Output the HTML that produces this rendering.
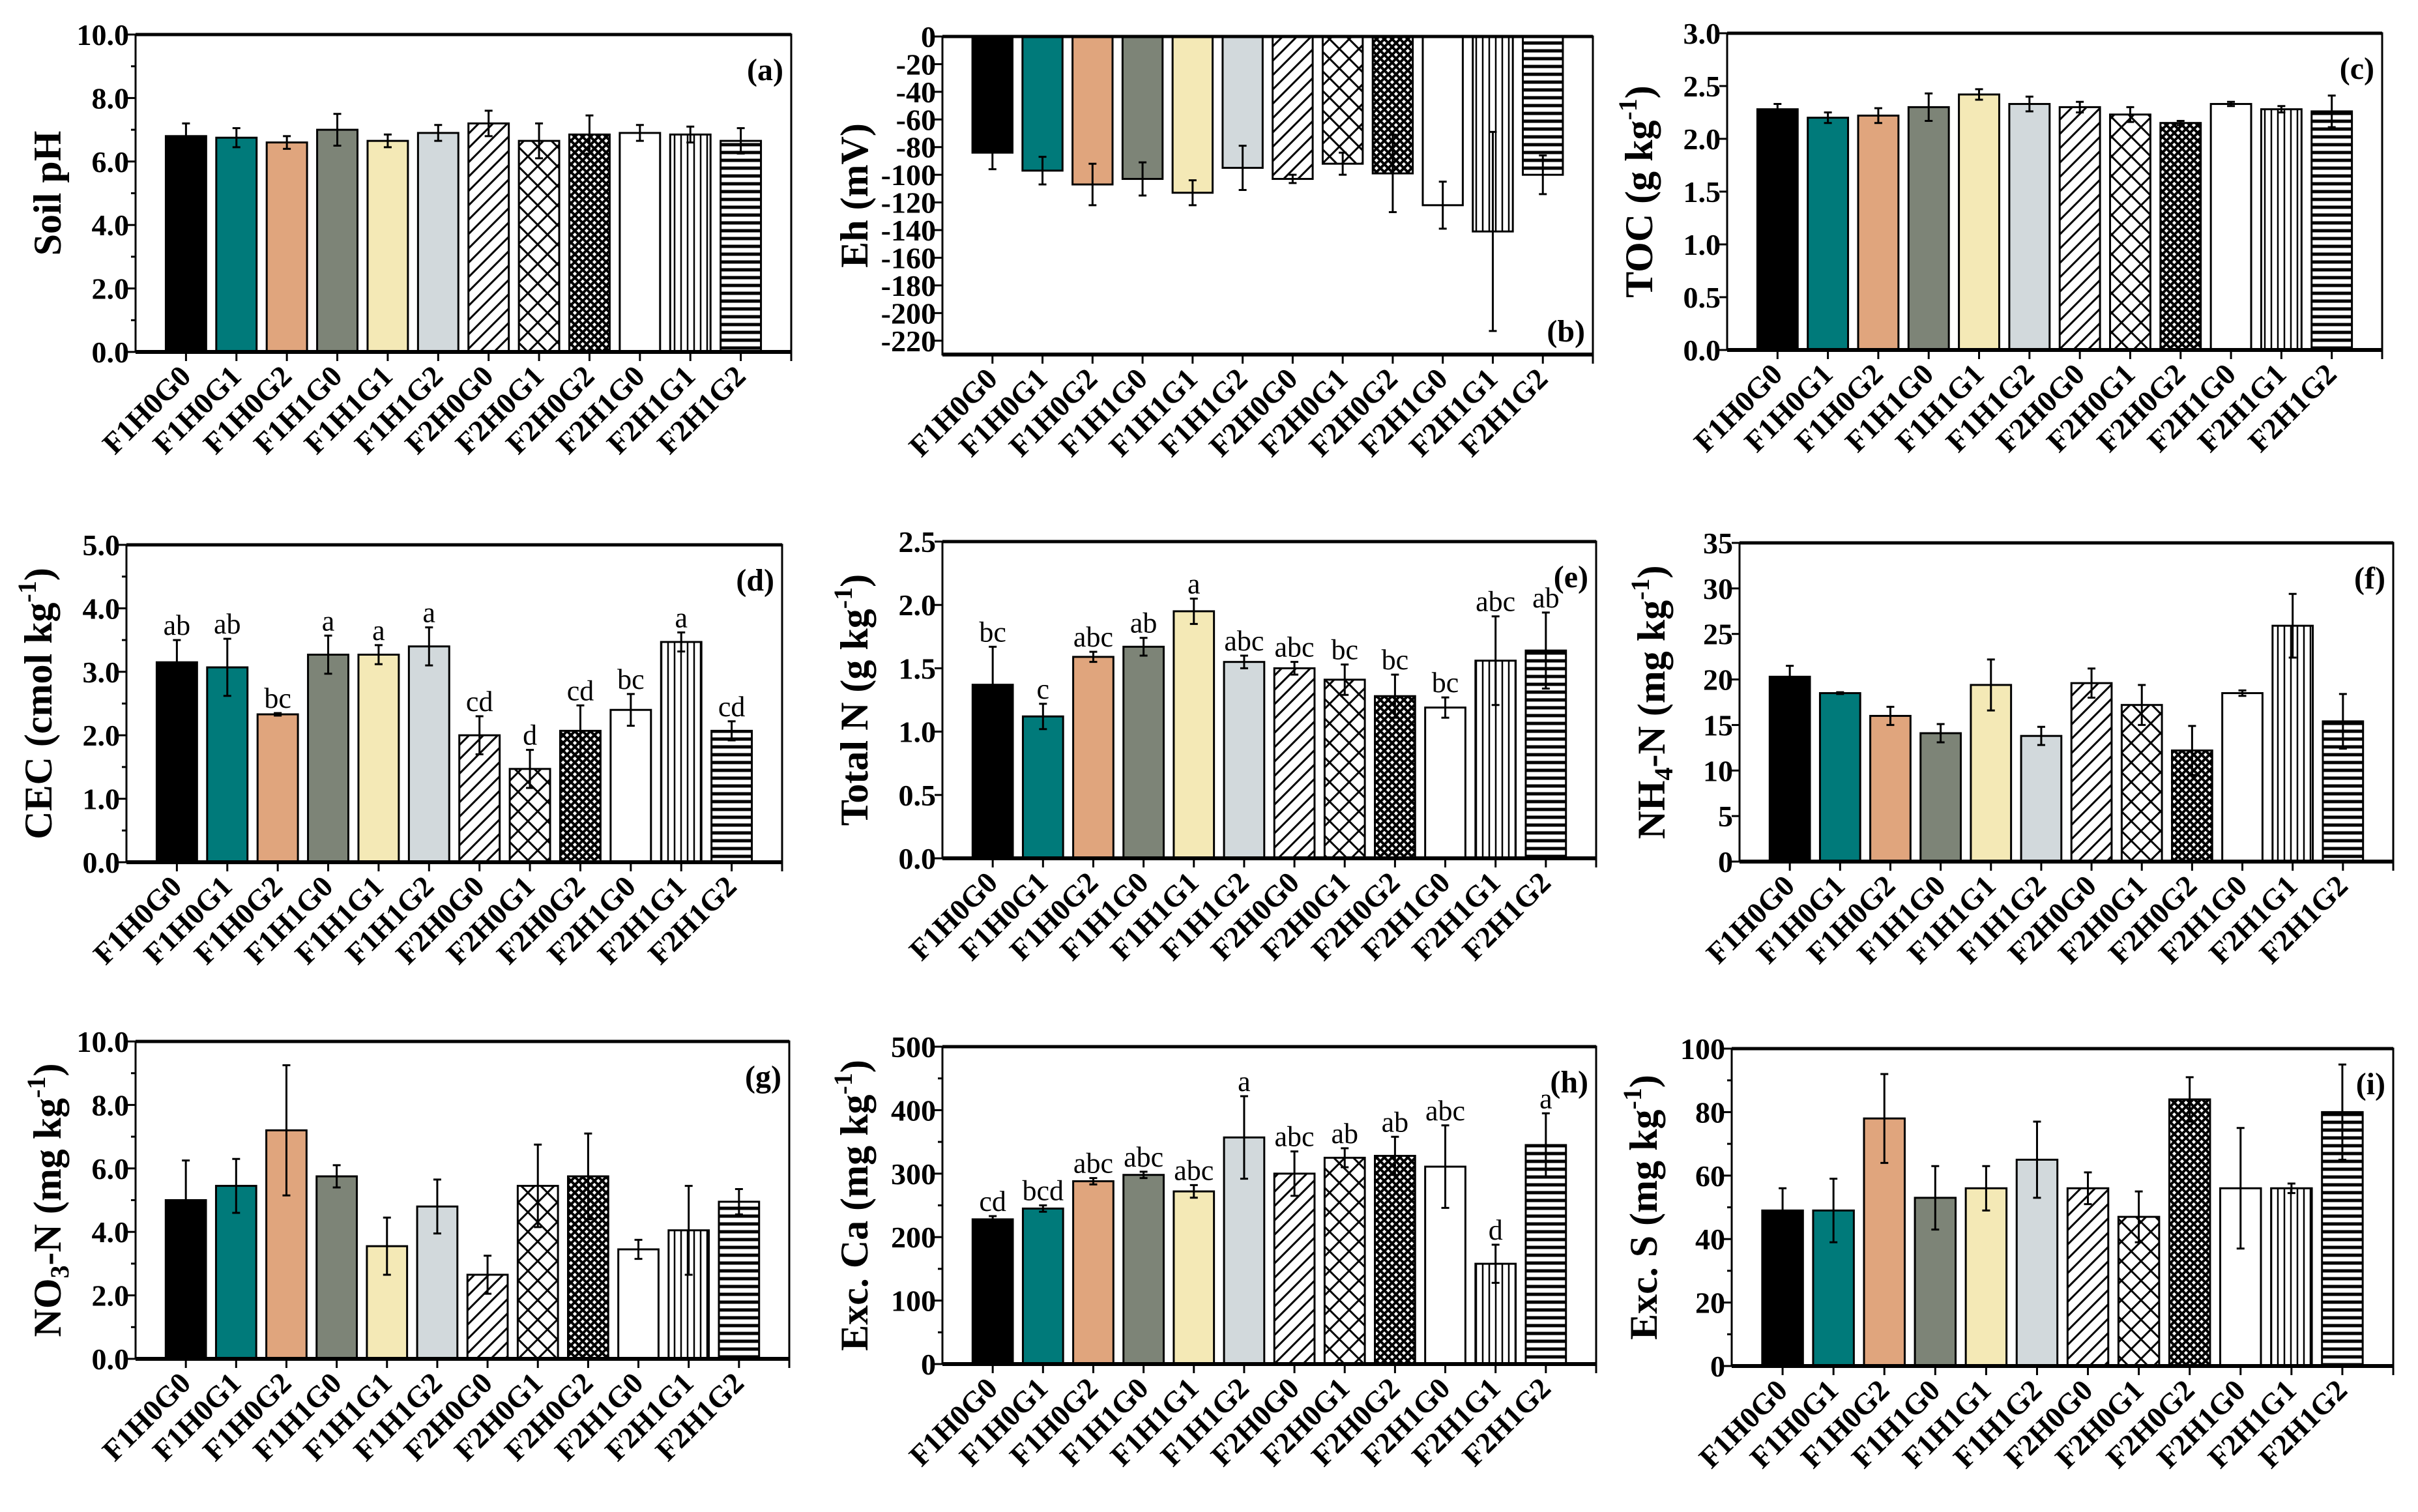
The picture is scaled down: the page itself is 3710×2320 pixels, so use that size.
<!DOCTYPE html>
<html><head><meta charset="utf-8"><style>
html,body{margin:0;padding:0;background:#fff;}
svg{display:block;font-family:"Liberation Serif",serif;font-weight:bold;}
</style></head><body>
<svg id="fig" xmlns="http://www.w3.org/2000/svg" width="3710" height="2320" viewBox="0 0 3710 2320">
<defs>
<pattern id="p-diag" patternUnits="userSpaceOnUse" width="22" height="22"><path d="M-2,24 L24,-2 M-13,13 L13,-13 M9,35 L35,9" stroke="#000" stroke-width="3"/></pattern>
<pattern id="p-cross" patternUnits="userSpaceOnUse" width="30" height="30"><path d="M0,0 L30,30 M30,0 L0,30" stroke="#000" stroke-width="3"/></pattern>
<pattern id="p-check" patternUnits="userSpaceOnUse" width="12" height="12"><rect width="12" height="12" fill="#fff"/><path d="M0,0 L12,12 M12,0 L0,12" stroke="#000" stroke-width="4"/></pattern>
<pattern id="p-vert" patternUnits="userSpaceOnUse" width="10" height="10"><path d="M5,0 L5,10" stroke="#000" stroke-width="2.5"/></pattern>
<pattern id="p-horiz" patternUnits="userSpaceOnUse" width="12" height="12"><path d="M0,6 L12,6" stroke="#000" stroke-width="5"/></pattern>
</defs>
</svg>
<script>
const categories = ["F1H0G0","F1H0G1","F1H0G2","F1H1G0","F1H1G1","F1H1G2","F2H0G0","F2H0G1","F2H0G2","F2H1G0","F2H1G1","F2H1G2"];
const fills = ["#000000","#007a7a","#e0a57d","#7d8477","#f4e9b6","#d2d9dc","url(#p-diag)","url(#p-cross)","url(#p-check)","#ffffff","url(#p-vert)","url(#p-horiz)"];

const phValues = [6.8,6.75,6.6,7.0,6.65,6.9,7.2,6.65,6.85,6.9,6.85,6.65];
const phErr = [0.4,0.3,0.2,0.5,0.2,0.25,0.4,0.55,0.6,0.25,0.25,0.4];
const phTicks = ["0.0","2.0","4.0","6.0","8.0","10.0"];

const ehValues = [-84,-97,-107,-103,-113,-95,-103,-92,-99,-122,-141,-100];
const ehErr = [12,10,15,12,9,16,3,8,28,17,72,14];
const ehTicks = ["0","-20","-40","-60","-80","-100","-120","-140","-160","-180","-200","-220"];

const tocValues = [2.28,2.2,2.22,2.3,2.42,2.33,2.3,2.23,2.15,2.33,2.28,2.26];
const tocErr = [0.05,0.05,0.07,0.13,0.05,0.07,0.05,0.07,0.02,0.02,0.03,0.15];
const tocTicks = ["0.0","0.5","1.0","1.5","2.0","2.5","3.0"];

const cecValues = [3.15,3.07,2.33,3.27,3.27,3.4,2.0,1.47,2.07,2.4,3.47,2.07];
const cecErr = [0.35,0.45,0.02,0.3,0.15,0.3,0.3,0.3,0.4,0.25,0.15,0.15];
const cecLetters = ["ab","ab","bc","a","a","a","cd","d","cd","bc","a","cd"];
const cecTicks = ["0.0","1.0","2.0","3.0","4.0","5.0"];

const tnValues = [1.37,1.12,1.59,1.67,1.95,1.55,1.5,1.41,1.28,1.19,1.56,1.64];
const tnErr = [0.3,0.1,0.04,0.07,0.1,0.05,0.05,0.12,0.17,0.08,0.35,0.3];
const tnLetters = ["bc","c","abc","ab","a","abc","abc","bc","bc","bc","abc","ab"];
const tnTicks = ["0.0","0.5","1.0","1.5","2.0","2.5"];

const nh4Values = [20.3,18.5,16.0,14.1,19.4,13.8,19.6,17.2,12.2,18.5,25.9,15.4];
const nh4Err = [1.2,0.1,1.0,1.0,2.8,1.0,1.6,2.2,2.7,0.3,3.5,3.0];
const nh4Ticks = ["0","5","10","15","20","25","30","35"];

const no3Values = [5.0,5.45,7.2,5.75,3.55,4.8,2.65,5.45,5.75,3.45,4.05,4.95];
const no3Err = [1.25,0.85,2.05,0.35,0.9,0.85,0.6,1.3,1.35,0.3,1.4,0.4];
const no3Ticks = ["0.0","2.0","4.0","6.0","8.0","10.0"];

const caValues = [228,245,288,298,272,357,300,325,328,311,158,345];
const caErr = [5,5,5,5,10,65,35,15,30,65,30,50];
const caLetters = ["cd","bcd","abc","abc","abc","a","abc","ab","ab","abc","d","a"];
const caTicks = ["0","100","200","300","400","500"];

const sValues = [49,49,78,53,56,65,56,47,84,56,56,80];
const sErr = [7,10,14,10,7,12,5,8,7,19,1.5,15];
const sTicks = ["0","20","40","60","80","100"];

const NS = "http://www.w3.org/2000/svg";
const svg = document.getElementById("fig");
function mk(tag, attrs, parent){ const e=document.createElementNS(NS,tag); for(const k in attrs) e.setAttribute(k,attrs[k]); (parent||svg).appendChild(e); return e; }

const panels = [
 {id:"a",x0:208,x1:1214,y0:53,y1:540,min:0,max:10,vals:phValues,err:phErr,ticks:phTicks,minor:true,label:"Soil pH",sup:false,lab:"(a)",labPos:"tr"},
 {id:"b",x0:1446,x1:2444,y0:56,y1:544,min:-230,max:0,vals:ehValues,err:ehErr,ticks:ehTicks,minor:false,label:"Eh (mV)",neg:true,lab:"(b)",labPos:"br"},
 {id:"c",x0:2650,x1:3655,y0:51,y1:537,min:0,max:3,vals:tocValues,err:tocErr,ticks:tocTicks,minor:false,label:"TOC (g kg",sup:true,lab:"(c)",labPos:"tr"},
 {id:"d",x0:194,x1:1200,y0:836,y1:1323,min:0,max:5,vals:cecValues,err:cecErr,ticks:cecTicks,minor:true,letters:cecLetters,label:"CEC (cmol kg",sup:true,lab:"(d)",labPos:"tr"},
 {id:"e",x0:1446,x1:2449,y0:831,y1:1317,min:0,max:2.5,vals:tnValues,err:tnErr,ticks:tnTicks,minor:false,letters:tnLetters,label:"Total N (g kg",sup:true,lab:"(e)",labPos:"tr"},
 {id:"f",x0:2669,x1:3672,y0:833,y1:1322,min:0,max:35,vals:nh4Values,err:nh4Err,ticks:nh4Ticks,minor:false,label:"NH4-N (mg kg",sup:true,sub:"4",lab:"(f)",labPos:"tr"},
 {id:"g",x0:208,x1:1211,y0:1598,y1:2085,min:0,max:10,vals:no3Values,err:no3Err,ticks:no3Ticks,minor:true,label:"NO3-N (mg kg",sup:true,sub:"3",lab:"(g)",labPos:"tr"},
 {id:"h",x0:1446,x1:2449,y0:1606,y1:2093,min:0,max:500,vals:caValues,err:caErr,ticks:caTicks,minor:true,letters:caLetters,label:"Exc. Ca (mg kg",sup:true,lab:"(h)",labPos:"tr"},
 {id:"i",x0:2657,x1:3672,y0:1609,y1:2096,min:0,max:100,vals:sValues,err:sErr,ticks:sTicks,minor:true,label:"Exc. S (mg kg",sup:true,lab:"(i)",labPos:"tr"}
];

panels.forEach(p=>{
  const g = mk("g",{});
  
  
  const W=p.x1-p.x0, H=p.y1-p.y0;
  const yS = v => p.neg ? p.y0 + (0 - v)/(0 - p.min)*H : p.y1 - (v-p.min)/(p.max-p.min)*H;
  const pitch = W/13, bw = pitch*0.8;
  const xC = i => p.x0 + (i+1)*pitch;
  // bars
  p.vals.forEach((v,i)=>{
    const yv=yS(v), yb = p.neg ? p.y0 : p.y1;
    const r = mk("rect",{x:xC(i)-bw/2,y:Math.min(yv,yb),width:bw,height:Math.abs(yb-yv),fill:fills[i],stroke:"#000","stroke-width":3},g);
    
    
    const e=p.err[i];
    const ya=yS(v-e), yb2=yS(v+e);
    const el = mk("path",{d:`M${xC(i)},${ya} L${xC(i)},${yb2} M${xC(i)-6},${ya} L${xC(i)+6},${ya} M${xC(i)-6},${yb2} L${xC(i)+6},${yb2}`,stroke:"#000","stroke-width":3,fill:"none"},g);
    
    
    if(p.letters){
      const t = mk("text",{x:xC(i),y:yS(v+e)-8,"text-anchor":"middle","font-size":44,"font-weight":"normal"},g);
      t.textContent=p.letters[i];
      
      
    }
    // x tick
    mk("line",{x1:xC(i),x2:xC(i),y1:p.y1,y2:p.y1+14,stroke:"#000","stroke-width":3},g);
    const lx=xC(i)+10, ly=p.y1+40;
    const t = mk("text",{x:lx,y:ly,"text-anchor":"end","font-size":46,transform:`rotate(-45 ${lx} ${ly})`},g);
    t.textContent=categories[i];
    
    
  });
  // frame
  const fr = mk("rect",{x:p.x0,y:p.y0,width:W,height:H,fill:"none",stroke:"#000","stroke-width":3},g);
  
  
  mk("line",{x1:p.x0,x2:p.x1,y1:p.y1,y2:p.y1,stroke:"#000","stroke-width":6},g);
  mk("line",{x1:p.x0,x2:p.x1,y1:p.y0,y2:p.y0,stroke:"#000","stroke-width":5},g);
  mk("line",{x1:p.x1,x2:p.x1,y1:p.y1,y2:p.y1+14,stroke:"#000","stroke-width":3},g);
  // y ticks
  const n=p.ticks.length;
  p.ticks.forEach((lbl,k)=>{
    const v=parseFloat(lbl);
    const y=yS(v);
    mk("line",{x1:p.x0-12,x2:p.x0,y1:y,y2:y,stroke:"#000","stroke-width":3},g);
    const t=mk("text",{x:p.x0-10,y:y+16,"text-anchor":"end","font-size":46},g);
    t.textContent=lbl;
    
    
    if(p.minor && k<n-1){
      const v2=parseFloat(p.ticks[k+1]); const ym=yS((v+v2)/2);
      mk("line",{x1:p.x0-7,x2:p.x0,y1:ym,y2:ym,stroke:"#000","stroke-width":3},g);
    }
  });
  // y label
  const cx=p.x0-135, cy=(p.y0+p.y1)/2;
  const yl=mk("text",{x:cx,y:cy,"text-anchor":"middle","font-size":60,transform:`rotate(-90 ${cx} ${cy})`,dy:20},g);
  
  
  if(p.sub){
    const parts=p.label.split(p.sub);
    const a=mk("tspan",{},yl); a.textContent=parts[0];
    const b=mk("tspan",{"font-size":40,dy:12},yl); b.textContent=p.sub;
    const c=mk("tspan",{dy:-12},yl); c.textContent=parts[1];
  } else {
    const a=mk("tspan",{},yl); a.textContent=p.label;
  }
  if(p.sup){
    const s=mk("tspan",{"font-size":40,dy:-24},yl); s.textContent="-1";
    const c=mk("tspan",{dy:24},yl); c.textContent=")";
  }
  // panel letter
  const ly = p.labPos==="tr" ? p.y0+70 : p.y1-20;
  const pl=mk("text",{x:p.x1-12,y:ly,"text-anchor":"end","font-size":48},g);
  pl.textContent=p.lab;
  
  
});
</script>
</body></html>
